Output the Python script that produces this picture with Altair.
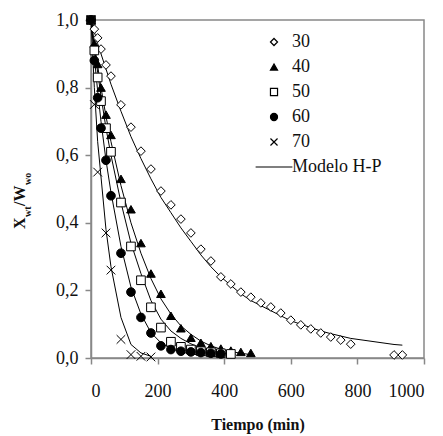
import altair as alt
import pandas as pd

FONT = "Liberation Serif"

temps = ["30", "40", "50", "60", "70"]

t30 = [0, 10, 20, 30, 45, 60, 90, 120, 150, 180, 210, 240, 270, 300, 330, 360, 390, 420, 450, 480,
       510, 540, 570, 600, 630, 660, 690, 720, 750, 780, 910, 935]
x30 = [1.0, 0.973, 0.947, 0.914, 0.867, 0.834, 0.749, 0.683, 0.612, 0.559, 0.494, 0.453, 0.411, 0.370,
       0.322, 0.287, 0.240, 0.219, 0.195, 0.180, 0.163, 0.151, 0.133, 0.112, 0.098, 0.086, 0.074, 0.062,
       0.053, 0.041, 0.009, 0.009]
m30 = [1.0, 0.965, 0.93, 0.90, 0.855, 0.81, 0.73, 0.655, 0.59, 0.53, 0.475, 0.43, 0.385, 0.345, 0.305,
       0.27, 0.24, 0.215, 0.19, 0.17, 0.155, 0.14, 0.125, 0.11, 0.10, 0.09, 0.08, 0.072, 0.065, 0.058,
       0.04, 0.038]

t40 = [0, 10, 20, 30, 45, 60, 90, 120, 150, 180, 210, 240, 270, 300, 330, 360, 390, 420, 450, 480]
x40 = [1.0, 0.93, 0.87, 0.80, 0.72, 0.66, 0.53, 0.44, 0.34, 0.25, 0.19, 0.125, 0.088, 0.06, 0.045,
       0.035, 0.028, 0.022, 0.018, 0.015]
m40 = [1.0, 0.93, 0.865, 0.80, 0.715, 0.64, 0.51, 0.40, 0.31, 0.235, 0.175, 0.13, 0.095, 0.07, 0.05,
       0.036, 0.026, 0.019, 0.014, 0.01]

t50 = [0, 10, 20, 30, 45, 60, 90, 120, 150, 180, 210, 240, 270, 300, 330, 360, 390, 420]
x50 = [1.0, 0.91, 0.83, 0.76, 0.68, 0.61, 0.46, 0.33, 0.23, 0.15, 0.09, 0.048, 0.033, 0.025, 0.02,
       0.017, 0.014, 0.012]
m50 = [1.0, 0.92, 0.845, 0.775, 0.68, 0.60, 0.46, 0.34, 0.25, 0.17, 0.115, 0.08, 0.058, 0.042, 0.03,
       0.021, 0.015, 0.011]

t60 = [0, 10, 20, 30, 45, 60, 90, 120, 150, 180, 210, 240, 270, 300, 330, 360, 390]
x60 = [1.0, 0.88, 0.77, 0.68, 0.585, 0.48, 0.31, 0.195, 0.12, 0.074, 0.036, 0.025, 0.02, 0.018, 0.016,
       0.014, 0.012]
m60 = [1.0, 0.89, 0.79, 0.70, 0.585, 0.49, 0.33, 0.21, 0.13, 0.075, 0.045, 0.028, 0.018, 0.012, 0.008,
       0.005, 0.003]

t70 = [0, 10, 20, 45, 60, 90, 120, 150, 180]
x70 = [1.0, 0.75, 0.55, 0.37, 0.26, 0.055, 0.01, 0.005, 0.003]
m70 = [1.0, 0.80, 0.64, 0.38, 0.27, 0.12, 0.04, 0.015, 0.005]

x_ticks = [0, 200, 400, 600, 800, 1000]
y_ticks = [0.0, 0.2, 0.4, 0.6, 0.8, 1.0]

series = {"30": (t30, x30, m30), "40": (t40, x40, m40), "50": (t50, x50, m50),
          "60": (t60, x60, m60), "70": (t70, x70, m70)}

pts_rows, mod_rows = [], []
for k, (tt, xx, mm) in series.items():
    for a, b, c in zip(tt, xx, mm):
        pts_rows.append({"t": a, "X": b, "temp": k})
        mod_rows.append({"t": a, "X": c, "temp": k})
pts = pd.DataFrame(pts_rows)
mod = pd.DataFrame(mod_rows)

domain = temps + ["Modelo H-P"]
shapes = ["diamond", "triangle-up", "square", "circle", "M-1,-1L1,1M-1,1L1,-1", "M-5.2,0H5.2"]
fills = ["white", "black", "white", "black", "transparent", "transparent"]
strokes = ["black"] * 6

xenc = alt.X("t:Q", scale=alt.Scale(domain=[0, 1000], nice=False),
             axis=alt.Axis(values=x_ticks, title="Tiempo (min)", grid=False, format="d",
                           labelFont=FONT, labelPadding=18, titlePadding=16,
                           titleFontWeight="bold", titleFontSize=16))
yenc = alt.Y("X:Q", scale=alt.Scale(domain=[0, 1], nice=False),
             axis=alt.Axis(values=y_ticks, title=None, grid=False, labelPadding=7, labelFont=FONT,
                           labelExpr="replace(format(datum.value, '.1f'), '.', ',')"))

lines = alt.Chart(mod).mark_line(color="black", strokeWidth=1).encode(
    x=xenc, y=yenc, detail="temp:N")

leg = alt.Legend(title=None, orient="none", legendX=174, legendY=13,
                 padding=0, rowPadding=7,
                 symbolSize=50, symbolStrokeWidth=1.2, labelOffset=9,
                 labelFont=FONT, labelFontSize=18, labelColor="#111")

points = alt.Chart(pts).mark_point(filled=True, strokeWidth=1, size=75, opacity=1).encode(
    x=xenc, y=yenc,
    shape=alt.Shape("temp:N", scale=alt.Scale(domain=domain, range=shapes), legend=leg),
    fill=alt.Fill("temp:N", scale=alt.Scale(domain=domain, range=fills), legend=leg),
    stroke=alt.Stroke("temp:N", scale=alt.Scale(domain=domain, range=strokes), legend=leg),
)

one = pd.DataFrame({"a": [0]})

def ttl(txt, xv, yv, fs):
    return alt.Chart(one).mark_text(angle=270, align="left", baseline="alphabetic", font=FONT,
                                    fontWeight="bold", fontSize=fs, color="#111").encode(
        x=alt.value(xv), y=alt.value(yv), text=alt.value(txt))

title_parts = [ttl("X", -66, 209, 16), ttl("wt", -60, 197, 10), ttl("/W", -66, 186, 16),
               ttl("wo", -60, 165, 10)]

chart = alt.layer(lines, points, *title_parts).properties(
    width=333, height=338,
    autosize=alt.AutoSizeParams(type="none"),
    padding={"left": 83, "top": 12, "right": 11, "bottom": 76},
).configure_view(stroke="#888", strokeWidth=1.5).configure_axis(
    domainColor="#888", domainWidth=1.5, tickColor="#888", tickWidth=1.5, tickSize=6,
    labelFont=FONT, labelFontSize=18, labelColor="#111", titleFont=FONT, titleColor="#111"
)

chart.save("out.html", embed_options={"renderer": "svg", "actions": False})
